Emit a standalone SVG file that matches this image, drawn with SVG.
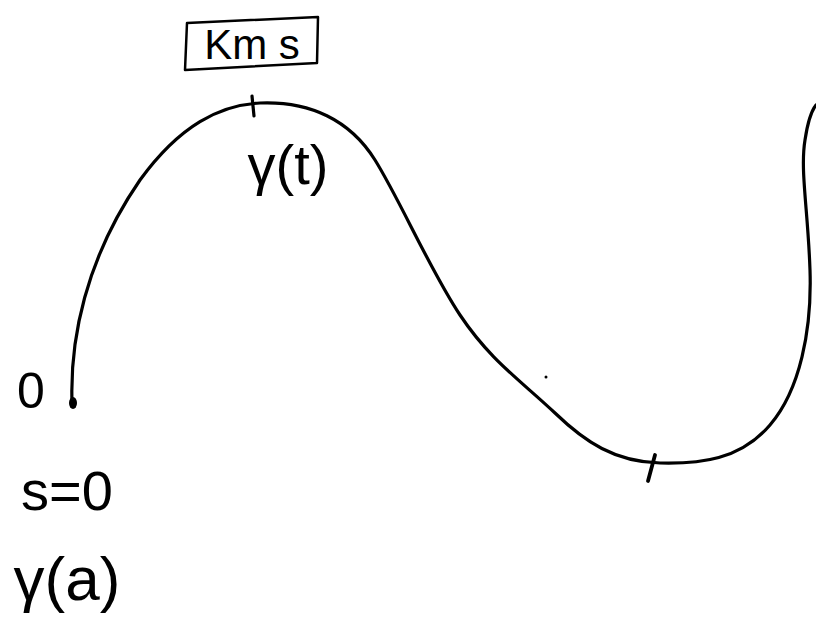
<svg xmlns="http://www.w3.org/2000/svg" width="816" height="625" viewBox="0 0 816 625">
<style>
.ink{fill:none;stroke:#000;stroke-width:3.2;stroke-linecap:round;stroke-linejoin:round}
.lbl{font-family:"Liberation Sans","DejaVu Sans",sans-serif;fill:#000}
</style>
<rect width="816" height="625" fill="#fff"/>
<g id="curve">
<path class="ink" d="M72,402 C70,340 85,260 140,180 C180,125 220,105 260,103 C310,101 350,120 375,160 C400,200 430,270 460,315 C490,360 520,380 555,413 C585,442 615,462 660,463 C700,464 740,460 770,425 C800,390 812,330 810,270 C808,210 800,170 805,140 C808,120 812,110 816,105"/>
<path class="ink" d="M252,96 L254,116"/>
<path class="ink" d="M655,455 L648,481" style="stroke-width:3.8"/>
<ellipse cx="73" cy="403" rx="4" ry="6" fill="#000"/>
<circle cx="546" cy="377" r="1.5" fill="#000"/>
</g>
<g id="box">
<path class="ink" d="M187,23 L318,17 L317,63 L185,70 Z" style="stroke-width:2.5"/>
<text class="lbl" x="252" y="59" font-size="42" text-anchor="middle">Km s</text>
</g>
<g id="labels">
<text class="lbl" x="288" y="184" font-size="56" text-anchor="middle">γ(t)</text>
<text class="lbl" x="31" y="408" font-size="50" text-anchor="middle">0</text>
<text class="lbl" x="67" y="510" font-size="56" text-anchor="middle">s=0</text>
<text class="lbl" x="67" y="600" font-size="62" text-anchor="middle">γ(a)</text>
</g>
</svg>
